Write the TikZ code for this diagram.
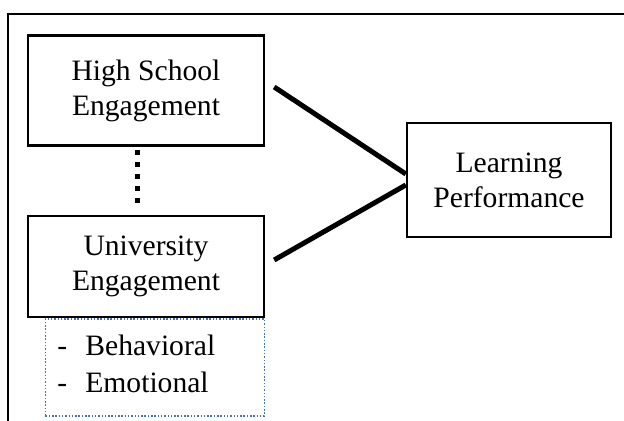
\documentclass[tikz,border=0pt]{standalone}
\usepackage{fontspec}
\setmainfont{Liberation Serif}
\usetikzlibrary{positioning}

\begin{document}
\begin{tikzpicture}[x=0.5pt,y=-0.5pt,
  box/.style={draw,line width=1.2pt,minimum width=118pt,align=center,
    font=\fontsize{14.8}{17.5}\selectfont},
  link/.style={line width=2.5pt},
  dotlink/.style={line width=2.5pt,dash pattern=on 2.5pt off 3.5pt},
  listbox/.style={draw=listblue,line width=0.75pt,dash pattern=on 0.75pt off 0.9pt},
  item/.style={anchor=base west,inner sep=0pt,font=\fontsize{14.8}{17.5}\selectfont}
]
\definecolor{listblue}{RGB}{68,114,180}
\useasboundingbox (0,0) rectangle (624,421);
\clip (0,0) rectangle (624,421);

% outer frame
\draw[line width=1.4pt] (8,14) rectangle (650,450);

% boxes
\node[box,minimum height=55pt] (hs) at (146,90.5) {High School\\Engagement};
\node[box,minimum height=50.5pt] (ue) at (146,266.5) {University\\Engagement};
\node[box,minimum width=102pt,minimum height=57pt] (lp) at (509,180) {Learning\\Performance};

% dimensions of university engagement
\node[listbox,minimum width=109.5pt,minimum height=48.5pt,anchor=north east,inner sep=0pt] (dims) at (ue.south east) {};
\node[item] (beh) at (57,355) {\makebox[14pt][l]{-}Behavioral};
\node[item] (emo) at (57,392) {\makebox[14pt][l]{-}Emotional};

% links
\coordinate (d) at (137,0);
\draw[dotlink] ([yshift=-1.75pt]hs.south -| d) -- ([yshift=3.25pt]ue.north -| d);
\draw[link] ([xshift=4.5pt,yshift=1.75pt]hs.east) -- ([yshift=3pt]lp.west);
\draw[link] ([xshift=4.5pt,yshift=3.25pt]ue.east) -- ([yshift=-2.5pt]lp.west);
\end{tikzpicture}
\end{document}
